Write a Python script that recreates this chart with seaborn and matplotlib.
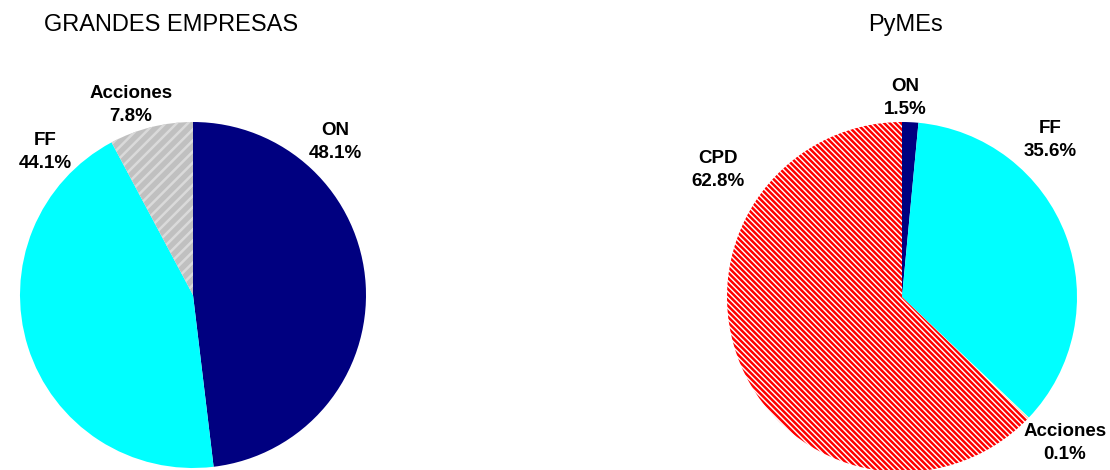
import matplotlib
matplotlib.use("Agg")
import matplotlib.pyplot as plt
import seaborn as sns

# data
grandes_labels = ["ON", "FF", "Acciones"]
grandes_values = [48.1, 44.1, 7.8]

pymes_labels = ["ON", "FF", "Acciones", "CPD"]
pymes_values = [1.5, 35.6, 0.1, 62.8]

sns.set_theme(style="white")
plt.rcParams["font.family"] = ["Liberation Sans", "DejaVu Sans"]
plt.rcParams["hatch.linewidth"] = 1.8

W, H = 1110, 470
fig = plt.figure(figsize=(W / 100, H / 100), dpi=100)
fig.patch.set_facecolor("white")


def px_axes(cx, cy, r):
    # axes holding a unit-radius pie, centred at pixel (cx, cy)
    ax = fig.add_axes([(cx - r) / W, (H - cy - r) / H, 2 * r / W, 2 * r / H])
    ax.axis("off")
    return ax


def draw_pie(ax, values, styles):
    wedges, _ = ax.pie(values, startangle=90, counterclock=False, radius=1,
                       wedgeprops=dict(linewidth=0))
    for w, (fc, ec, hatch) in zip(wedges, styles):
        w.set_facecolor(fc)
        w.set_edgecolor(ec)
        if hatch:
            w.set_hatch(hatch)
        w.set_clip_on(False)
    # pie() resets the limits, so pin them afterwards
    ax.set_xlim(-1, 1)
    ax.set_ylim(-1, 1)
    ax.set_aspect("equal")
    return wedges


def label(x, y, name, val):
    fig.text(x / W, 1 - y / H, f"{name}\n{val:.1f}%", ha="center", va="center",
             fontsize=13.5, fontweight="bold", color="black", linespacing=1.45)


# GRANDES EMPRESAS
ax1 = px_axes(193, 295, 173)
draw_pie(ax1, grandes_values, [
    ("#000080", "none", None),
    ("#00FFFF", "none", None),
    ("#C0C0C0", "#DADADA", "///"),
])
fig.text(171 / W, 1 - 25 / H, "GRANDES EMPRESAS", ha="center", va="center",
         fontsize=17, color="black")
for (x, y), n, v in zip([(335, 142), (45, 152), (131, 105)], grandes_labels, grandes_values):
    label(x, y, n, v)

# PyMEs
ax2 = px_axes(902, 297, 175)
draw_pie(ax2, pymes_values, [
    ("#000080", "none", None),
    ("#00FFFF", "none", None),
    ("#FFFFCC", "white", None),
    ("white", "#FF0000", "\\\\\\\\\\\\"),
])
fig.text(905 / W, 1 - 25 / H, "PyMEs", ha="center", va="center",
         fontsize=17, color="black")
for (x, y), n, v in zip([(905, 98), (1050, 140), (1065, 443), (718, 170)], pymes_labels, pymes_values):
    label(x, y, n, v)

fig.savefig("out.png", dpi=100, facecolor="white")
